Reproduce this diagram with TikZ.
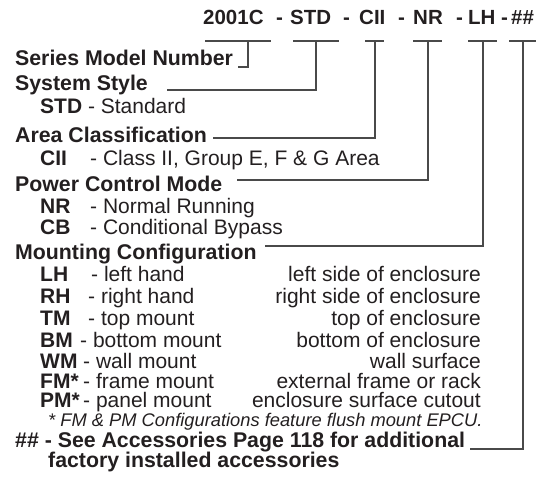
\documentclass[tikz,border=0pt]{standalone}
\usepackage{fontspec}
\setmainfont{Liberation Sans}
\definecolor{ink}{HTML}{231F20}
\definecolor{wire}{HTML}{4A4A4A}
\begin{document}
\begin{tikzpicture}[x=1pt,y=-1pt,
  txt/.style={inner sep=0pt, anchor=base west, text=ink},
  rtxt/.style={inner sep=0pt, anchor=base east, text=ink},
  hdr/.style={txt, font=\fontsize{20.5}{24}\selectfont\bfseries},
  head/.style={txt, font=\fontsize{21.3}{25}\selectfont\bfseries},
  body/.style={txt, font=\fontsize{21}{25}\selectfont},
  rbody/.style={rtxt, font=\fontsize{21}{25}\selectfont},
  code/.style={txt, font=\fontsize{21}{25}\selectfont\bfseries},
  note/.style={txt, font=\fontsize{18.3}{22}\selectfont\itshape},
  wirestyle/.style={draw=wire, line width=1.1pt}]
\useasboundingbox (0,0) rectangle (548,481);

% header
\node[hdr] (h1) at (203,25) {2001C};
\node[hdr] (d1) at (276,25) {-};
\node[hdr] (h2) at (290,25) {STD};
\node[hdr] (d2) at (343,25) {-};
\node[hdr] (h3) at (359,25) {CII};
\node[hdr] (d3) at (398,25) {-};
\node[hdr] (h4) at (413,25) {NR};
\node[hdr] (d4) at (456,25) {-};
\node[hdr] (h5) at (468,25) {LH};
\node[hdr] (d5) at (501,25) {-};
\node[hdr] (h6) at (511,25) {\#\#};

% underlines
\coordinate (u1l) at (205,41); \coordinate (u1r) at (271,41); \coordinate (u1) at (248,41);
\coordinate (u2l) at (293,41); \coordinate (u2r) at (339,41); \coordinate (u2) at (316,41);
\coordinate (u3l) at (365,41); \coordinate (u3r) at (384,41); \coordinate (u3) at (375,41);
\coordinate (u4l) at (413,41); \coordinate (u4r) at (442,41); \coordinate (u4) at (428,41);
\coordinate (u5l) at (468,41); \coordinate (u5r) at (497,41); \coordinate (u5) at (483,41);
\coordinate (u6l) at (509,41); \coordinate (u6r) at (536,41); \coordinate (u6) at (523,41);
\foreach \i in {1,...,6} {\draw[wirestyle] (u\i l) -- (u\i r);}

% headings and items
\node[head] (series) at (15,66) {Series Model Number};
\node[head] (system) at (15,91) {System Style};
\node[body] (std) at (40,114) {\textbf{STD} - Standard};
\node[head] (area) at (15,143) {Area Classification};
\node[code] (cii) at (40,165) {CII};
\node[body] (ciid) at (90,165) {- Class II, Group E, F \& G Area};
\node[head] (power) at (15,191) {Power Control Mode};
\node[code] (nr) at (40,213) {NR};
\node[body] (nrd) at (90,213) {- Normal Running};
\node[code] (cb) at (40,234) {CB};
\node[body] (cbd) at (90,234) {- Conditional Bypass};
\node[head] (mount) at (15,259) {Mounting Configuration};

\node[code] (lh) at (40,281) {LH};
\node[body] (lhd) at (91,281) {- left hand};
\node[rbody] (lhr) at (481,281) {left side of enclosure};
\node[code] (rh) at (40,303) {RH};
\node[body] (rhd) at (88,303) {- right hand};
\node[rbody] (rhr) at (481,303) {right side of enclosure};
\node[code] (tm) at (40,325) {TM};
\node[body] (tmd) at (88,325) {- top mount};
\node[rbody] (tmr) at (481,325) {top of enclosure};
\node[code] (bm) at (40,347) {BM};
\node[body] (bmd) at (80,347) {- bottom mount};
\node[rbody] (bmr) at (481,347) {bottom of enclosure};
\node[code] (wm) at (40,368) {WM};
\node[body] (wmd) at (83,368) {- wall mount};
\node[rbody] (wmr) at (481,368) {wall surface};
\node[code] (fm) at (40,388) {FM\makebox[5pt][l]{*}};
\node[body] (fmd) at (83,388) {- frame mount};
\node[rbody] (fmr) at (481,388) {external frame or rack};
\node[code] (pm) at (40,407) {PM\makebox[5pt][l]{*}};
\node[body] (pmd) at (83,407) {- panel mount};
\node[rbody] (pmr) at (481,407) {enclosure surface cutout};
\node[note] (foot) at (48,426) {* FM \& PM Configurations feature flush mount EPCU.};
\node[head] (acc) at (15,447) {\#\# - See Accessories Page 118 for additional};
\node[head] (acc2) at (48,467) {factory installed accessories};

% connector ends
\coordinate (e1) at (238,67);
\coordinate (e2) at (167,90);
\coordinate (e3) at (213,138);
\coordinate (e4) at (237,180);
\coordinate (e5) at (265,246);
\coordinate (e6) at (470,449);

\draw[wirestyle] (u1) |- (e1);
\draw[wirestyle] (u2) |- (e2);
\draw[wirestyle] (u3) |- (e3);
\draw[wirestyle] (u4) |- (e4);
\draw[wirestyle] (u5) |- (e5);
\draw[wirestyle] (u6) |- (e6);
\end{tikzpicture}
\end{document}
